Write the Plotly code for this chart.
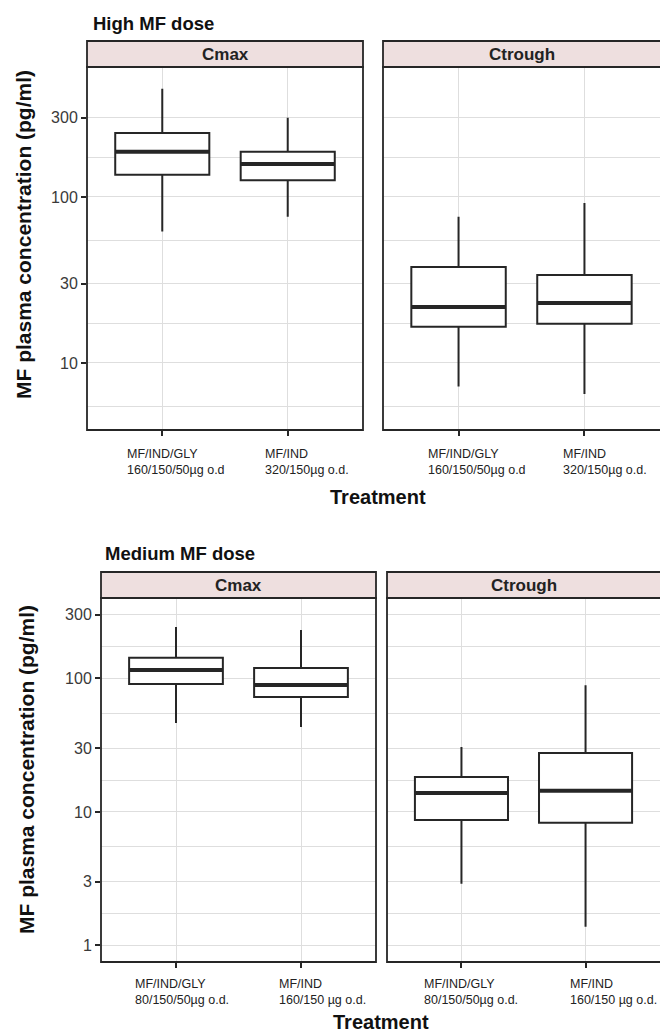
import plotly.graph_objects as go

# ---------------- data ----------------
positions = [1, 2]
labels_high = ["MF/IND/GLY<br>160/150/50µg o.d", "MF/IND<br>320/150µg o.d."]
labels_med = ["MF/IND/GLY<br>80/150/50µg o.d.", "MF/IND<br>160/150 µg o.d."]
ytick_vals = [1, 3, 10, 30, 100, 300]
ytick_text = ["1", "3", "10", "30", "100", "300"]

high_cmax_low = [62, 76]
high_cmax_q1 = [136, 126]
high_cmax_med = [187, 158]
high_cmax_q3 = [243, 187]
high_cmax_high = [448, 300]

high_ctr_low = [7.2, 6.5]
high_ctr_q1 = [16.5, 17.2]
high_ctr_med = [21.7, 23.0]
high_ctr_q3 = [37.8, 33.9]
high_ctr_high = [76, 92]

med_cmax_low = [46.5, 43.4]
med_cmax_q1 = [91, 72.6]
med_cmax_med = [116, 89.3]
med_cmax_q3 = [143, 120]
med_cmax_high = [243, 231]

med_ctr_low = [2.9, 1.38]
med_ctr_q1 = [8.7, 8.3]
med_ctr_med = [13.9, 14.4]
med_ctr_q3 = [18.3, 27.7]
med_ctr_high = [30.7, 89]

# ---------------- layout helpers ----------------
W, H = 660, 1036
FONT = "Liberation Sans, Arial, sans-serif"
DARK = "#262626"
GRID = "#DEDEDE"
STRIP = "#EEDFDF"
BOX_W = 0.75


def fx(p):
    return p / W


def fy(p):
    return 1 - p / H


panels = [
    dict(strip="Cmax", labels=labels_high, low=high_cmax_low, q1=high_cmax_q1, med=high_cmax_med,
         q3=high_cmax_q3, high=high_cmax_high, xd=(87, 363), yd=(67, 430), st=(41, 67),
         yr=(0.596, 2.783), minor=[5.48, 17.3, 54.8, 173], showy=True, lab_y=445, lab_off=[-37, -25]),
    dict(strip="Ctrough", labels=labels_high, low=high_ctr_low, q1=high_ctr_q1, med=high_ctr_med,
         q3=high_ctr_q3, high=high_ctr_high, xd=(383, 660), yd=(67, 430), st=(41, 67),
         yr=(0.596, 2.783), minor=[5.48, 17.3, 54.8, 173], showy=False, lab_y=445, lab_off=[-33, -23]),
    dict(strip="Cmax", labels=labels_med, low=med_cmax_low, q1=med_cmax_q1, med=med_cmax_med,
         q3=med_cmax_q3, high=med_cmax_high, xd=(101, 376), yd=(598, 962), st=(572, 598),
         yr=(-0.124, 2.603), minor=[1.73, 5.48, 17.3, 54.8, 173], showy=True, lab_y=975, lab_off=[-43, -24]),
    dict(strip="Ctrough", labels=labels_med, low=med_ctr_low, q1=med_ctr_q1, med=med_ctr_med,
         q3=med_ctr_q3, high=med_ctr_high, xd=(387, 660), yd=(598, 962), st=(572, 598),
         yr=(-0.124, 2.603), minor=[1.73, 5.48, 17.3, 54.8, 173], showy=False, lab_y=975, lab_off=[-39, -18]),
]

fig = go.Figure()
shapes = []
annotations = []
layout_axes = {}

for i, p in enumerate(panels):
    n = "" if i == 0 else str(i + 1)
    xa, ya = "x" + n, "y" + n
    fig.add_trace(go.Box(
        x=positions, q1=p["q1"], median=p["med"], q3=p["q3"],
        lowerfence=p["low"], upperfence=p["high"],
        width=BOX_W, whiskerwidth=0, boxpoints=False,
        fillcolor="white", line=dict(color=DARK, width=2),
        xaxis=xa, yaxis=ya, showlegend=False, hoverinfo="skip",
    ))
    # thick median lines
    mx, my = [], []
    for c, m in zip(positions, p["med"]):
        mx += [c - BOX_W / 2, c + BOX_W / 2, None]
        my += [m, m, None]
    fig.add_trace(go.Scatter(x=mx, y=my, mode="lines", line=dict(color=DARK, width=4),
                             xaxis=xa, yaxis=ya, showlegend=False, hoverinfo="skip"))

    x0, x1 = fx(p["xd"][0]), fx(p["xd"][1])
    y0, y1 = fy(p["yd"][1]), fy(p["yd"][0])
    layout_axes["xaxis" + n] = dict(
        domain=[x0, min(x1, 1.0)], range=[0.4, 2.6], anchor=ya,
        tickvals=positions, ticktext=["", ""], showticklabels=False,
        ticks="outside", ticklen=5, tickwidth=1.5, tickcolor=DARK,
        showgrid=True, gridcolor=GRID, gridwidth=1, zeroline=False, showline=False,
    )
    layout_axes["yaxis" + n] = dict(
        domain=[y0, y1], type="log", range=list(p["yr"]), anchor=xa,
        tickvals=ytick_vals, ticktext=ytick_text, showticklabels=p["showy"],
        ticks="outside" if p["showy"] else "", ticklen=5, tickwidth=1.5, tickcolor=DARK,
        tickfont=dict(family=FONT, size=16, color="#3a3a3a"),
        showgrid=True, gridcolor=GRID, gridwidth=1, zeroline=False, showline=False,
        minor=dict(tickvals=p["minor"], showgrid=True, gridcolor=GRID, gridwidth=1, ticks=""),
    )
    right = x1 if p["xd"][1] < W else 1.01
    # panel border
    shapes.append(dict(type="rect", xref="paper", yref="paper", x0=x0, x1=right, y0=y0, y1=y1,
                       line=dict(color=DARK, width=1.8), fillcolor="rgba(0,0,0,0)", layer="above"))
    # strip
    shapes.append(dict(type="rect", xref="paper", yref="paper", x0=x0, x1=right,
                       y0=fy(p["st"][1]), y1=fy(p["st"][0]),
                       line=dict(color=DARK, width=1.8), fillcolor=STRIP, layer="above"))
    annotations.append(dict(text="<b>" + p["strip"] + "</b>", xref="paper", yref="paper",
                            x=(x0 + min(x1, 1.0)) / 2, y=fy((p["st"][0] + p["st"][1]) / 2),
                            xanchor="center", yanchor="middle", showarrow=False,
                            font=dict(family=FONT, size=17, color="#222")))
    # category labels
    for c, lab, off in zip(positions, p["labels"], p["lab_off"]):
        annotations.append(dict(text=lab, xref=xa, yref="paper", x=c, xshift=off,
                                y=fy(p["lab_y"]), xanchor="left", yanchor="top", align="left",
                                showarrow=False, font=dict(family=FONT, size=12.5, color="#222")))

# titles
for txt, xp, yp in [("High MF dose", 91, 23), ("Medium MF dose", 103, 553)]:
    annotations.append(dict(text="<b>" + txt + "</b>", xref="paper", yref="paper", x=fx(xp), y=fy(yp),
                            xanchor="left", yanchor="middle", showarrow=False,
                            font=dict(family=FONT, size=18.5, color="#111")))
for xp, yp in [(23, 235), (26, 770)]:
    annotations.append(dict(text="<b>MF plasma concentration (pg/ml)</b>", xref="paper", yref="paper",
                            x=fx(xp), y=fy(yp), textangle=-90, xanchor="center", yanchor="middle",
                            showarrow=False, font=dict(family=FONT, size=21, color="#111")))
for xp, yp in [(378, 497), (381, 1022)]:
    annotations.append(dict(text="<b>Treatment</b>", xref="paper", yref="paper", x=fx(xp), y=fy(yp),
                            xanchor="center", yanchor="middle", showarrow=False,
                            font=dict(family=FONT, size=20, color="#111")))

fig.update_layout(
    width=W, height=H, margin=dict(l=0, r=0, t=0, b=0, pad=0),
    paper_bgcolor="white", plot_bgcolor="white", showlegend=False,
    shapes=shapes, annotations=annotations, font=dict(family=FONT),
    **layout_axes,
)

fig.write_html("out.html", config={"displayModeBar": False},
               post_script="document.body.style.margin='0px';document.body.style.overflow='hidden';")
